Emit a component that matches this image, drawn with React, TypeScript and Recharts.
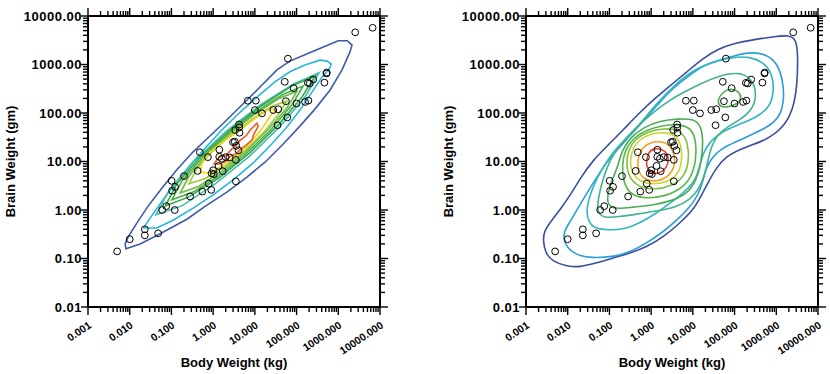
import React from "react";
import { ScatterChart, Scatter, XAxis, YAxis, Label } from "recharts";

// mammals: body weight (kg) vs brain weight (g)
const bodyKg = [3.385, 0.48, 1.35, 465, 36.33, 27.66, 14.83, 1.04, 4.19, 0.425, 0.101, 0.92, 1, 0.005, 0.06, 3.5, 2, 1.7, 2547, 0.023, 187.1, 521, 0.785, 10, 3.3, 0.2, 1.41, 529, 207, 85, 0.75, 62, 6654, 3.5, 6.8, 35, 4.05, 0.12, 0.023, 0.01, 1.4, 250, 2.5, 55.5, 100, 52.16, 10.55, 0.55, 60, 3.6, 4.288, 0.28, 0.075, 0.122, 0.048, 192, 3, 160, 0.9, 1.62, 0.104, 4.235];
const brainG = [44.5, 15.5, 8.1, 423, 119.5, 115, 98.2, 5.5, 58, 6.4, 4, 5.7, 6.6, 0.14, 1, 10.8, 12.3, 6.3, 4603, 0.3, 419, 655, 3.5, 115, 25.6, 5, 17.5, 680, 406, 325, 12.3, 1320, 5712, 3.9, 179, 56, 17, 1, 0.4, 0.25, 12.5, 490, 12.1, 175, 157, 440, 179.5, 2.4, 81, 21, 39.2, 1.9, 1.2, 3, 0.33, 180, 25, 169, 2.6, 11.4, 2.5, 50.4];

// axis ticks
const xMajor = [0.001, 0.01, 0.1, 1, 10, 100, 1000, 10000];
const xMajorLabels = ["0.001", "0.010", "0.100", "1.000", "10.000", "100.000", "1000.000", "10000.000"];
const yMajor = [0.01, 0.1, 1, 10, 100, 1000, 10000];
const yMajorLabels = ["0.01", "0.10", "1.00", "10.00", "100.00", "1000.00", "10000.00"];
const minorSteps = [2, 3, 4, 5, 6, 7, 8, 9];

// contour vertices, [log10 body kg, log10 brain g]
// left panel (outer -> inner)
const leftL1 = [[-2.09,-0.80],[-1.75,-0.70],[-1.27,-0.49],[-0.63,-0.19],[-0.15,0.10],[0.33,0.37],[0.81,0.68],[1.25,0.99],[1.68,1.36],[2.08,1.73],[2.44,2.08],[2.80,2.47],[3.09,2.89],[3.28,3.26],[3.33,3.40],[3.21,3.49],[3.00,3.49],[2.64,3.36],[2.20,3.20],[1.84,3.07],[1.53,2.89],[1.13,2.54],[0.72,2.19],[0.33,1.86],[-0.07,1.53],[-0.48,1.20],[-0.87,0.83],[-1.23,0.45],[-1.56,0.08],[-1.83,-0.27],[-2.04,-0.56],[-2.11,-0.70]];
const leftL2 = [[-1.66,-0.37],[-1.35,-0.37],[-0.96,-0.21],[-0.48,0.04],[0.00,0.31],[0.48,0.62],[0.96,0.97],[1.36,1.32],[1.77,1.71],[2.08,2.06],[2.37,2.43],[2.61,2.74],[2.80,2.93],[2.83,3.01],[2.73,3.07],[2.56,3.09],[2.20,2.99],[1.84,2.85],[1.48,2.64],[1.08,2.35],[0.65,2.02],[0.21,1.65],[-0.19,1.28],[-0.55,0.93],[-0.89,0.56],[-1.20,0.21],[-1.44,-0.08],[-1.61,-0.29]];
const leftL3 = [[-1.37,-0.10],[-0.74,0.09],[0.05,0.54],[0.86,1.10],[1.60,1.72],[2.21,2.34],[2.54,2.83],[1.93,2.60],[1.14,2.17],[0.31,1.62],[-0.45,1.01],[-1.06,0.40]];
const leftL4 = [[-1.15,0.08],[-0.58,0.27],[0.15,0.67],[0.89,1.19],[1.57,1.76],[2.13,2.33],[2.44,2.76],[1.89,2.56],[1.16,2.15],[0.41,1.65],[-0.30,1.10],[-0.87,0.54]];
const leftL5 = [[-0.99,0.21],[-0.48,0.37],[0.16,0.72],[0.80,1.17],[1.40,1.67],[1.89,2.17],[2.16,2.56],[1.67,2.38],[1.03,2.03],[0.37,1.59],[-0.24,1.10],[-0.74,0.61]];
const leftL6 = [[-0.79,0.35],[-0.34,0.49],[0.22,0.81],[0.80,1.22],[1.33,1.67],[1.77,2.11],[2.01,2.45],[1.58,2.30],[1.01,1.98],[0.42,1.59],[-0.13,1.15],[-0.57,0.71]];
const leftL7 = [[-0.58,0.54],[-0.19,0.65],[0.28,0.90],[0.77,1.23],[1.21,1.60],[1.57,1.98],[1.77,2.25],[1.41,2.14],[0.93,1.87],[0.43,1.55],[-0.03,1.20],[-0.40,0.84]];
const leftL8 = [[-0.31,0.78],[-0.07,0.76],[0.33,0.97],[0.81,1.31],[1.13,1.63],[1.41,1.98],[1.51,2.06],[1.36,2.08],[1.05,1.92],[0.65,1.65],[0.24,1.41],[-0.07,1.20],[-0.27,0.97]];
const leftL9 = [[0.02,0.95],[0.14,1.09],[0.31,1.13],[0.45,1.26],[0.55,1.32],[0.65,1.44],[0.79,1.53],[0.89,1.65],[1.05,1.79],[1.08,1.73],[0.98,1.57],[0.93,1.44],[0.79,1.34],[0.67,1.26],[0.55,1.16],[0.41,1.11],[0.31,1.01],[0.17,0.95]];
const leftColors = ["#3b5ca8", "#29b4dc", "#45bcae", "#37a84a", "#4bae47", "#6bbb45", "#9fcb3b", "#f2d317", "#ef5a2b"];

// right panel (outer -> inner)
const rightR1 = [[-2.59,-0.62],[-2.54,-0.89],[-2.35,-1.07],[-2.02,-1.16],[-1.71,-1.18],[-1.30,-1.09],[-0.91,-0.99],[-0.51,-0.89],[-0.10,-0.76],[0.29,-0.56],[0.69,-0.27],[1.01,0.00],[1.20,0.29],[1.36,0.56],[1.56,0.87],[1.80,1.11],[2.20,1.28],[2.76,1.44],[3.16,1.69],[3.40,2.06],[3.50,2.54],[3.52,3.20],[3.48,3.51],[3.31,3.61],[2.92,3.57],[2.44,3.51],[2.01,3.44],[1.60,3.32],[1.25,3.13],[0.86,2.85],[0.45,2.56],[0.05,2.27],[-0.31,1.98],[-0.67,1.65],[-1.03,1.34],[-1.39,1.03],[-1.68,0.68],[-1.95,0.29],[-2.19,0.00],[-2.42,-0.25],[-2.57,-0.45]];
const rightR2 = [[-2.11,-0.58],[-2.02,-0.78],[-1.78,-0.93],[-1.47,-0.99],[-0.91,-0.97],[-0.51,-0.87],[-0.10,-0.68],[0.29,-0.45],[0.62,-0.21],[0.93,0.06],[1.13,0.31],[1.25,0.62],[1.32,0.87],[1.46,1.09],[1.70,1.28],[2.08,1.42],[2.44,1.57],[2.80,1.71],[3.09,1.92],[3.19,2.27],[3.16,2.68],[3.02,3.03],[2.78,3.20],[2.44,3.26],[2.06,3.20],[1.65,3.09],[1.25,2.99],[0.86,2.74],[0.45,2.47],[0.05,2.06],[-0.34,1.69],[-0.75,1.30],[-1.03,1.03],[-1.27,0.72],[-1.54,0.35],[-1.78,0.00],[-1.95,-0.25],[-2.07,-0.41]];
const rightR3 = [[-1.49,-0.25],[-1.37,-0.37],[-1.13,-0.41],[-0.67,-0.41],[-0.27,-0.27],[0.14,-0.06],[0.45,0.14],[0.77,0.35],[1.01,0.56],[1.10,0.72],[1.17,0.93],[1.25,1.18],[1.41,1.42],[1.72,1.63],[2.13,1.77],[2.54,1.92],[2.85,2.12],[2.95,2.47],[2.90,2.83],[2.68,3.05],[2.37,3.16],[1.96,3.16],[1.48,3.05],[1.01,2.89],[0.62,2.62],[0.21,2.27],[-0.19,1.86],[-0.51,1.53],[-0.84,1.28],[-1.08,0.99],[-1.30,0.66],[-1.49,0.27],[-1.56,-0.06]];
const rightR4 = [[-0.99,1.03],[-0.79,1.30],[-0.51,1.57],[-0.22,1.81],[0.12,2.06],[0.45,2.27],[0.79,2.43],[1.17,2.60],[1.60,2.76],[2.08,2.85],[2.42,2.72],[2.54,2.37],[2.42,2.06],[2.13,1.86],[1.82,1.71],[1.58,1.55],[1.41,1.24],[1.32,0.83],[1.17,0.45],[0.93,0.21],[0.60,0.06],[0.17,-0.02],[-0.31,-0.08],[-0.79,-0.14],[-1.13,-0.17],[-1.30,-0.04],[-1.27,0.25],[-1.15,0.66]];
const rightR5 = [[-0.79,0.91],[-0.70,1.24],[-0.48,1.51],[-0.17,1.71],[0.21,1.84],[0.65,1.88],[1.03,1.88],[1.20,1.73],[1.25,1.40],[1.20,0.97],[1.08,0.60],[0.86,0.33],[0.50,0.19],[0.05,0.10],[-0.43,0.06],[-0.82,0.02],[-1.03,0.08],[-1.06,0.29],[-0.94,0.62]];
const rightR5b = [[1.58,2.27],[1.72,2.43],[1.89,2.52],[2.13,2.43],[2.16,2.29],[2.08,2.19],[1.84,2.12],[1.65,2.12]];
const rightR6 = [[-0.70,0.91],[-0.63,1.24],[-0.43,1.48],[-0.12,1.65],[0.29,1.75],[0.72,1.77],[0.98,1.67],[1.08,1.40],[1.08,1.03],[0.96,0.66],[0.69,0.41],[0.26,0.27],[-0.19,0.23],[-0.55,0.35],[-0.67,0.62]];
const rightR7 = [[-0.60,0.95],[-0.55,1.24],[-0.39,1.46],[-0.10,1.61],[0.31,1.69],[0.72,1.65],[0.89,1.38],[0.91,0.99],[0.79,0.68],[0.50,0.49],[0.07,0.41],[-0.29,0.47],[-0.53,0.66]];
const rightR8 = [[-0.51,0.97],[-0.46,1.24],[-0.31,1.44],[-0.03,1.57],[0.33,1.61],[0.62,1.53],[0.74,1.28],[0.74,0.97],[0.62,0.70],[0.38,0.58],[0.05,0.52],[-0.27,0.58],[-0.46,0.76]];
const rightR9 = [[-0.34,1.03],[-0.22,1.28],[-0.03,1.40],[0.26,1.42],[0.45,1.34],[0.57,1.13],[0.57,0.89],[0.41,0.68],[0.14,0.58],[-0.15,0.62],[-0.31,0.78]];
const rightR10 = [[-0.12,0.99],[-0.07,1.20],[0.09,1.28],[0.33,1.24],[0.43,1.07],[0.38,0.87],[0.21,0.76],[0.02,0.74],[-0.10,0.87]];
const rightColors = ["#3a4e9f", "#2a9ed8", "#33b7bf", "#3fb48e", "#4aad56", "#4aad56", "#5bb447", "#7dc143", "#c8d52c", "#f1a12b", "#e8432b"];

const FONT = "'Liberation Sans', Arial, Helvetica, sans-serif";

const withMinor = (major: number[]) => {
  const out: number[] = [];
  major.forEach((m, i) => {
    out.push(m);
    if (i < major.length - 1) minorSteps.forEach((k) => out.push(+(m * k).toPrecision(6)));
  });
  return out;
};
const xTicks = withMinor(xMajor);
const yTicks = withMinor(yMajor);
const majorIndex = (list: number[], v: number) => list.findIndex((m) => Math.abs(v / m - 1) < 1e-6);

const toPts = (c: number[][]) => c.map(([a, b]) => ({ x: 10 ** a, y: 10 ** b }));
const points = bodyKg.map((b, i) => ({ x: b, y: brainG[i] }));

function BottomTick(props: any) {
  const { x, y, payload } = props;
  const i = majorIndex(xMajor, payload.value);
  const ax = x + 4;
  const ay = y + 20;
  return (
    <g>
      <line x1={x} x2={x} y1={y} y2={y + (i >= 0 ? 8 : 5)} stroke="#000" strokeWidth={1.4} />
      {i >= 0 && (
        <text x={ax} y={ay} textAnchor="end" transform={`rotate(-34 ${ax} ${ay})`} fontFamily={FONT} fontWeight={700} fontSize={10.5} fill="#000">
          {xMajorLabels[i]}
        </text>
      )}
    </g>
  );
}

function TopTick(props: any) {
  const { x, y, payload } = props;
  const major = majorIndex(xMajor, payload.value) >= 0;
  return <line x1={x} x2={x} y1={y} y2={y - (major ? 8 : 5)} stroke="#000" strokeWidth={1.4} />;
}

function LeftTick(props: any) {
  const { x, y, payload } = props;
  const i = majorIndex(yMajor, payload.value);
  return (
    <g>
      <line x1={x} x2={x - (i >= 0 ? 7 : 5)} y1={y} y2={y} stroke="#000" strokeWidth={1.4} />
      {i >= 0 && (
        <text x={x - 6} y={y} dy="0.36em" textAnchor="end" fontFamily={FONT} fontWeight={700} fontSize={13} letterSpacing={0.5} fill="#000">
          {yMajorLabels[i]}
        </text>
      )}
    </g>
  );
}

function RightTick(props: any) {
  const { x, y, payload } = props;
  const major = majorIndex(yMajor, payload.value) >= 0;
  return <line x1={x} x2={x + (major ? 8 : 5)} y1={y} y2={y} stroke="#000" strokeWidth={1.4} />;
}

const xTitle = (p: any) => {
  const vb = p.viewBox || { x: 88, y: 307, width: 292, height: 67 };
  return (
    <text x={vb.x + vb.width / 2} y={vb.y + 60} textAnchor="middle" fontFamily={FONT} fontWeight={700} fontSize={13} fill="#000">
      Body Weight (kg)
    </text>
  );
};

const yTitle = (p: any) => {
  const vb = p.viewBox || { x: 0, y: 16, width: 88, height: 291 };
  const tx = vb.x + 14.5;
  const ty = vb.y + vb.height / 2;
  return (
    <text x={tx} y={ty} textAnchor="middle" transform={`rotate(-90 ${tx} ${ty})`} fontFamily={FONT} fontWeight={700} fontSize={13} fill="#000">
      Brain Weight (gm)
    </text>
  );
};

const Dot = (p: any) => <circle cx={p.cx} cy={p.cy} r={3.4} fill="none" stroke="#000" strokeWidth={1} />;
const NoDot = () => <g />;

type Contour = { pts: number[][]; color: string };

function Panel({ contours, joint }: { contours: Contour[]; joint: string }) {
  const axisLine = { stroke: "#000", strokeWidth: 2 };
  return (
    <ScatterChart width={415} height={374} margin={{ top: 0, right: 0, bottom: 0, left: 0 }}>
      <XAxis xAxisId="b" type="number" dataKey="x" scale="log" domain={[0.001, 10000]} allowDataOverflow ticks={xTicks} interval={0} tick={BottomTick} tickLine={false} tickSize={0} tickMargin={0} axisLine={axisLine} height={67}>
        <Label content={xTitle} />
      </XAxis>
      <XAxis xAxisId="t" orientation="top" type="number" dataKey="x" scale="log" domain={[0.001, 10000]} allowDataOverflow ticks={xTicks} interval={0} tick={TopTick} tickLine={false} tickSize={0} tickMargin={0} axisLine={axisLine} height={16} />
      <YAxis yAxisId="l" type="number" dataKey="y" scale="log" domain={[0.01, 10000]} allowDataOverflow ticks={yTicks} interval={0} tick={LeftTick} tickLine={false} tickSize={0} tickMargin={0} axisLine={axisLine} width={88}>
        <Label content={yTitle} />
      </YAxis>
      <YAxis yAxisId="r" orientation="right" type="number" dataKey="y" scale="log" domain={[0.01, 10000]} allowDataOverflow ticks={yTicks} interval={0} tick={RightTick} tickLine={false} tickSize={0} tickMargin={0} axisLine={axisLine} width={35} />
      {contours.map((c, i) => (
        <Scatter
          key={i}
          xAxisId="b"
          yAxisId="l"
          data={toPts(c.pts)}
          shape={NoDot}
          line={{ stroke: c.color, strokeWidth: 1.6 }}
          lineType="joint"
          lineJointType={joint as any}
          isAnimationActive={false}
        />
      ))}
      <Scatter xAxisId="b" yAxisId="l" data={points} shape={Dot} isAnimationActive={false} />
    </ScatterChart>
  );
}

const leftContours: Contour[] = [leftL1, leftL2, leftL3, leftL4, leftL5, leftL6, leftL7, leftL8, leftL9].map((pts, i) => ({ pts, color: leftColors[i] }));
const rightContours: Contour[] = [rightR1, rightR2, rightR3, rightR4, rightR5, rightR5b, rightR6, rightR7, rightR8, rightR9, rightR10].map((pts, i) => ({ pts, color: rightColors[i] }));

export default function App() {
  return (
    <div style={{ position: "absolute", left: 0, top: 0, width: 830, height: 374, overflow: "hidden", background: "#fff" }}>
      <div style={{ position: "absolute", left: 0, top: 0 }}>
        <Panel contours={leftContours} joint="linearClosed" />
      </div>
      <div style={{ position: "absolute", left: 438, top: 0 }}>
        <Panel contours={rightContours} joint="basisClosed" />
      </div>
    </div>
  );
}
